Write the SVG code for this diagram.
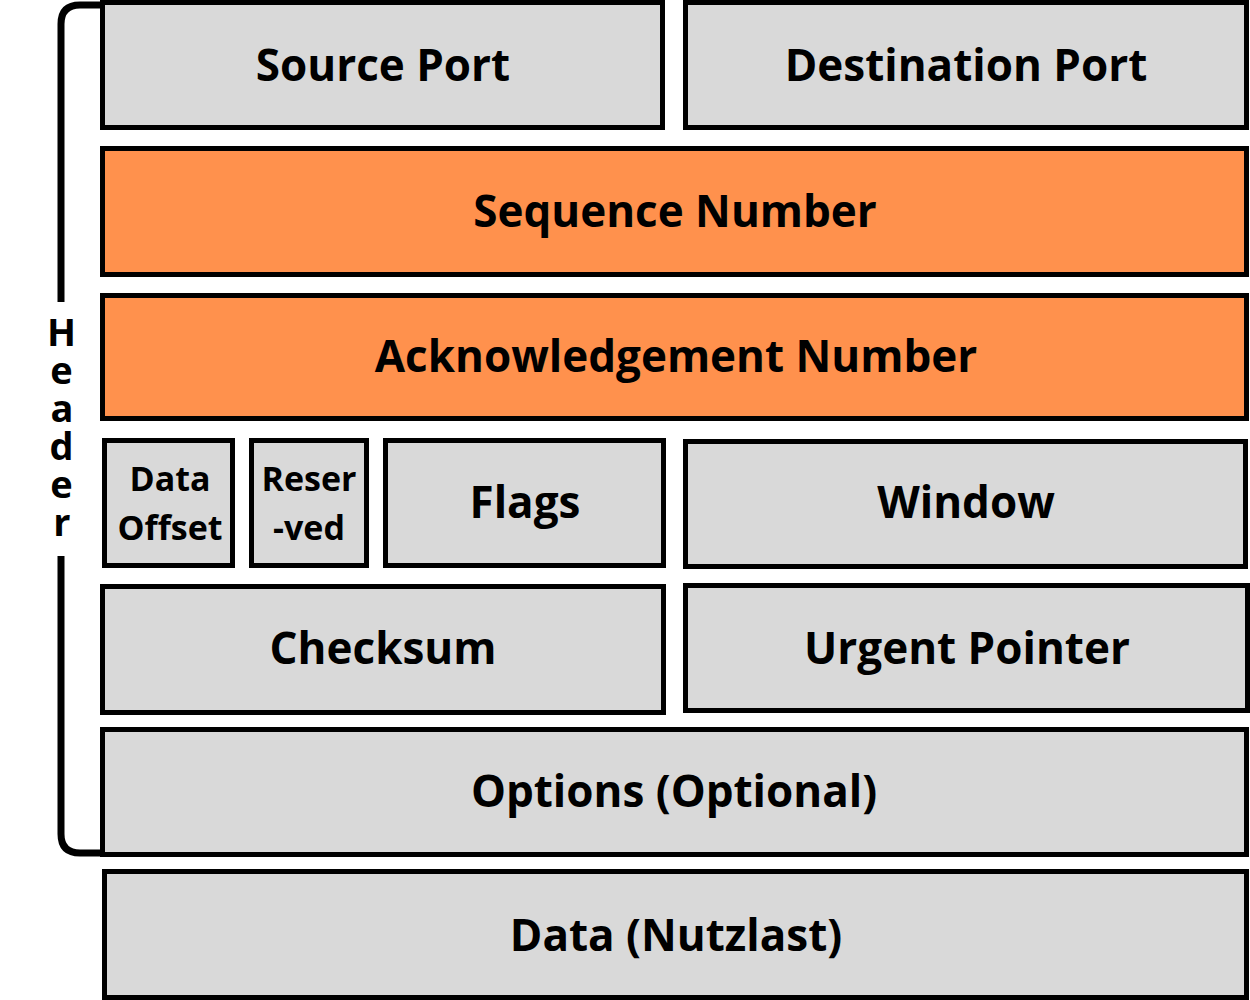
<svg xmlns="http://www.w3.org/2000/svg" width="1250" height="1000" viewBox="0 0 1250 1000">
<style>
.box{fill:#d9d9d9;stroke:#000;stroke-width:5}
.org{fill:#ff914d;stroke:#000;stroke-width:5}
.t{font-family:"Open Sans","Liberation Sans",sans-serif;font-weight:700;font-size:44px;fill:#000;text-anchor:middle}
.s{font-size:34px}
.h{font-family:"Open Sans","Liberation Sans",sans-serif;font-weight:700;font-size:38px;fill:#000;writing-mode:vertical-rl;text-orientation:upright;letter-spacing:-14px}
</style>
<rect width="1250" height="1000" fill="#fff"/>
<g id="connectors">
<path d="M100,5 H80 Q61,5 61,24 V302 M61,556 V834 Q61,853 80,853 H100" fill="none" stroke="#000" stroke-width="7"/>
</g>
<g id="header-label">
<text class="h" x="61" y="305">Header</text>
</g>
<g id="source-port"><rect class="box" x="102.5" y="2.5" width="560" height="125"/><text class="t" x="383" y="81">Source Port</text></g>
<g id="destination-port"><rect class="box" x="685.5" y="2.5" width="561" height="125"/><text class="t" x="966" y="81">Destination Port</text></g>
<g id="sequence-number"><rect class="org" x="102.5" y="148.5" width="1144" height="126"/><text class="t" x="675" y="227">Sequence Number</text></g>
<g id="acknowledgement-number"><rect class="org" x="102.5" y="295.5" width="1144" height="123"/><text class="t" x="676" y="372">Acknowledgement Number</text></g>
<g id="data-offset"><rect class="box" x="104.5" y="440.5" width="128" height="125"/><text class="t s" x="170" y="491">Data</text><text class="t s" x="170" y="540">Offset</text></g>
<g id="reserved"><rect class="box" x="251.5" y="440.5" width="115" height="125"/><text class="t s" x="309" y="491">Reser</text><text class="t s" x="309" y="540">-ved</text></g>
<g id="flags"><rect class="box" x="385.5" y="440.5" width="278" height="125"/><text class="t" x="525" y="518">Flags</text></g>
<g id="window"><rect class="box" x="685.5" y="441.5" width="560" height="125"/><text class="t" x="966" y="518">Window</text></g>
<g id="checksum"><rect class="box" x="102.5" y="586.5" width="561" height="126"/><text class="t" x="383" y="664">Checksum</text></g>
<g id="urgent-pointer"><rect class="box" x="685.5" y="585.5" width="562" height="125"/><text class="t" x="967" y="664">Urgent Pointer</text></g>
<g id="options"><rect class="box" x="102.5" y="729.5" width="1144" height="125"/><text class="t" x="674" y="807">Options (Optional)</text></g>
<g id="data"><rect class="box" x="104.5" y="871.5" width="1142" height="126"/><text class="t" x="676" y="951">Data (Nutzlast)</text></g>
</svg>
